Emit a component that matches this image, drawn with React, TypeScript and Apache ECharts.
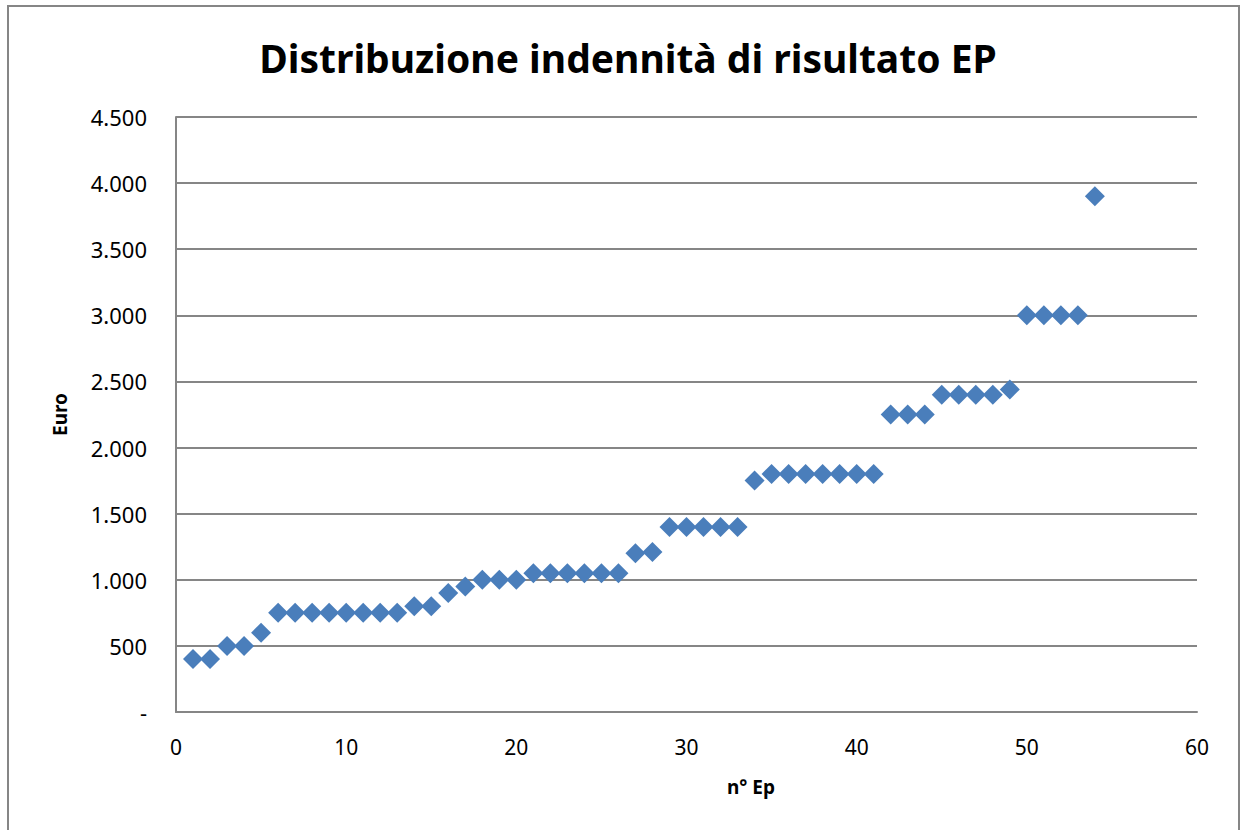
import React, { useEffect, useRef } from "react";
import * as echarts from "echarts";

const TITLE = "Distribuzione indennità di risultato EP";
const X_NAME = "n° Ep";
const Y_NAME = "Euro";

const epNumbers = [
  1, 2, 3, 4, 5, 6, 7, 8, 9, 10, 11, 12, 13, 14, 15, 16, 17, 18, 19, 20,
  21, 22, 23, 24, 25, 26, 27, 28, 29, 30, 31, 32, 33, 34, 35, 36, 37, 38, 39, 40,
  41, 42, 43, 44, 45, 46, 47, 48, 49, 50, 51, 52, 53, 54,
];
const euroValues = [
  400, 400, 500, 500, 600, 750, 750, 750, 750, 750, 750, 750, 750, 800, 800, 900, 950, 1000, 1000, 1000,
  1050, 1050, 1050, 1050, 1050, 1050, 1200, 1210, 1400, 1400, 1400, 1400, 1400, 1750, 1800, 1800, 1800, 1800, 1800, 1800,
  1800, 2250, 2250, 2250, 2400, 2400, 2400, 2400, 2440, 3000, 3000, 3000, 3000, 3900,
];

const FONT = "'Noto Sans', 'Open Sans', sans-serif";
const GRAY = "#868686";

function fmtEuro(v: number): string {
  if (v === 0) return "-";
  const s = Math.round(v).toString();
  return s.replace(/\B(?=(\d{3})+(?!\d))/g, ".");
}

export default function App() {
  const ref = useRef<HTMLDivElement>(null);
  useEffect(() => {
    if (!ref.current) return;
    const chart = echarts.init(ref.current, null, { renderer: "svg" });
    const data = epNumbers.map((x, i) => [x, euroValues[i]]);
    chart.setOption({
      animation: false,
      backgroundColor: "#ffffff",
      title: {
        text: TITLE,
        left: 623,
        textAlign: "center",
        top: 33,
        textStyle: {
          fontFamily: FONT,
          fontWeight: "bold",
          fontSize: 39,
          color: "#000000",
        },
      },
      graphic: [
        {
          type: "rect",
          shape: { x: 8, y: 6, width: 1231, height: 840 },
          style: { fill: "none", stroke: GRAY, lineWidth: 2 },
          silent: true,
        },
        {
          type: "text",
          x: 751,
          y: 787,
          style: {
            text: X_NAME,
            fontFamily: FONT,
            fontWeight: "bold",
            fontSize: 19,
            fill: "#000",
            align: "center",
            verticalAlign: "middle",
          },
          silent: true,
        },
      ],
      grid: { left: 176, top: 117, right: 43, bottom: 118 },
      xAxis: {
        type: "value",
        min: 0,
        max: 60,
        interval: 10,
        axisLine: { show: true, lineStyle: { color: GRAY, width: 2 } },
        axisTick: { show: false },
        splitLine: { show: false },
        axisLabel: { fontFamily: FONT, fontSize: 21, color: "#000", margin: 24 },
      },
      yAxis: {
        type: "value",
        min: 0,
        max: 4500,
        interval: 500,
        name: Y_NAME,
        nameLocation: "middle",
        nameGap: 107,
        nameRotate: 90,
        nameTextStyle: { fontFamily: FONT, fontWeight: "bold", fontSize: 19, color: "#000" },
        axisLine: { show: true, lineStyle: { color: GRAY, width: 2 } },
        axisTick: { show: false },
        splitLine: { show: true, lineStyle: { color: GRAY, width: 2 } },
        axisLabel: {
          fontFamily: FONT,
          fontSize: 22,
          color: "#000",
          margin: 29,
          formatter: (v: number) => fmtEuro(v),
        },
      },
      series: [
        {
          type: "scatter",
          data,
          symbol: "diamond",
          symbolSize: [20, 20],
          itemStyle: { color: "#4a7ebb", opacity: 1 },
        },
      ],
    });
    return () => chart.dispose();
  }, []);
  return (
    <div
      ref={ref}
      style={{ position: "fixed", left: 0, top: 0, width: 1240, height: 830, background: "#fff" }}
    />
  );
}
